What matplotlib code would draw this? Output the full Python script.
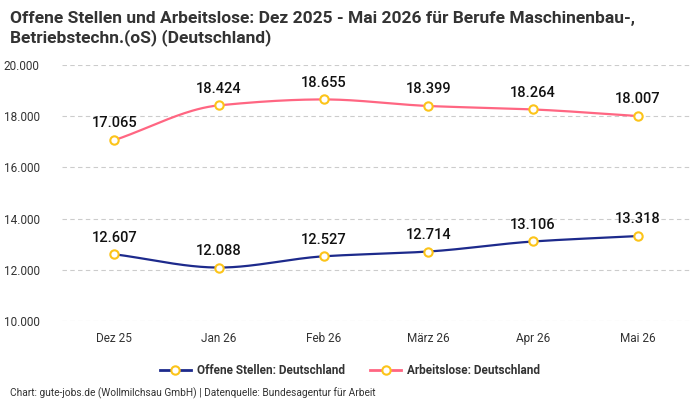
import numpy as np
import matplotlib
matplotlib.use('Agg')
import matplotlib.pyplot as plt
from matplotlib.lines import Line2D

# data
months = ['Dez 25', 'Jan 26', 'Feb 26', 'März 26', 'Apr 26', 'Mai 26']
offene_stellen = [12607, 12088, 12527, 12714, 13106, 13318]
arbeitslose = [17065, 18424, 18655, 18399, 18264, 18007]

plt.rcParams['font.family'] = ['Roboto', 'DejaVu Sans']


def smooth(x, y, n=40):
    # monotone cubic (Fritsch-Carlson) for the line shape
    x = np.asarray(x, float)
    y = np.asarray(y, float)
    h = np.diff(x)
    d = np.diff(y) / h
    m = np.zeros_like(y)
    m[0], m[-1] = d[0], d[-1]
    for i in range(1, len(y) - 1):
        if d[i - 1] * d[i] <= 0:
            m[i] = 0
        else:
            m[i] = 2 / (1 / d[i - 1] + 1 / d[i])
    xs, ys = [], []
    for i in range(len(h)):
        t = np.linspace(0, 1, n)
        h00 = 2 * t**3 - 3 * t**2 + 1
        h10 = t**3 - 2 * t**2 + t
        h01 = -2 * t**3 + 3 * t**2
        h11 = t**3 - t**2
        xs.append(x[i] + t * h[i])
        ys.append(h00 * y[i] + h10 * h[i] * m[i] + h01 * y[i + 1] + h11 * h[i] * m[i + 1])
    return np.concatenate(xs), np.concatenate(ys)


fig = plt.figure(figsize=(7, 4), dpi=100)
ax = fig.add_axes([62 / 700, (400 - 321) / 400, 628 / 700, 256 / 400])

x = np.arange(len(months))
series = [(offene_stellen, '#1d2a8c', 'Offene Stellen: Deutschland'),
          (arbeitslose, '#ff6682', 'Arbeitslose: Deutschland')]
for vals, col, lab in series:
    sx, sy = smooth(x, vals)
    ax.plot(sx, sy, color=col, lw=1.6, zorder=3)
    ax.plot(x, vals, 'o', ms=6, mfc='white', mec='#fcc419', mew=1.5, zorder=4)
    for xi, v in zip(x, vals):
        ax.annotate(f'{v:,}'.replace(',', '.'), (xi, v), xytext=(0, 7),
                    textcoords='offset points', ha='center', va='bottom',
                    fontsize=10.5, fontweight='medium', color='#111111')

ax.set_xlim(-0.5, 5.5)
ax.set_ylim(10000, 20000)
ax.set_yticks([10000, 12000, 14000, 16000, 18000, 20000])
ax.set_yticklabels(['10.000', '12.000', '14.000', '16.000', '18.000', '20.000'])
ax.set_xticks(x)
ax.set_xticklabels(months)
ax.tick_params(length=0, labelsize=8.5, colors='#333333', pad=8)
ax.tick_params(axis='y', pad=16)
ax.grid(axis='y', linestyle=(0, (4, 3)), color='#cccccc', lw=0.8)
for s in ax.spines.values():
    s.set_visible(False)

handles = [Line2D([0], [0], color=col, lw=2, marker='o', ms=6, mfc='white',
                  mec='#fcc419', mew=1.5) for _, col, _ in series]
fig.legend(handles, [s[2] for s in series], loc='center', bbox_to_anchor=(0.5, 1 - 371 / 400),
           ncol=2, frameon=False, prop={'weight': 'bold', 'size': 8.5},
           handlelength=2.6, handletextpad=0.5, columnspacing=2.2, labelcolor='#333333')

fig.text(10 / 700, 1 - 11 / 400, 'Offene Stellen und Arbeitslose: Dez 2025 - Mai 2026 für Berufe Maschinenbau-,\nBetriebstechn.(oS) (Deutschland)',
         fontsize=12.5, fontweight='bold', color='#333333', va='top', linespacing=1.2)
fig.text(10 / 700, 1 - 393 / 400, 'Chart: gute-jobs.de (Wollmilchsau GmbH) | Datenquelle: Bundesagentur für Arbeit',
         fontsize=7.3, color='#333333', va='center')

fig.savefig('out.png', dpi=100)
